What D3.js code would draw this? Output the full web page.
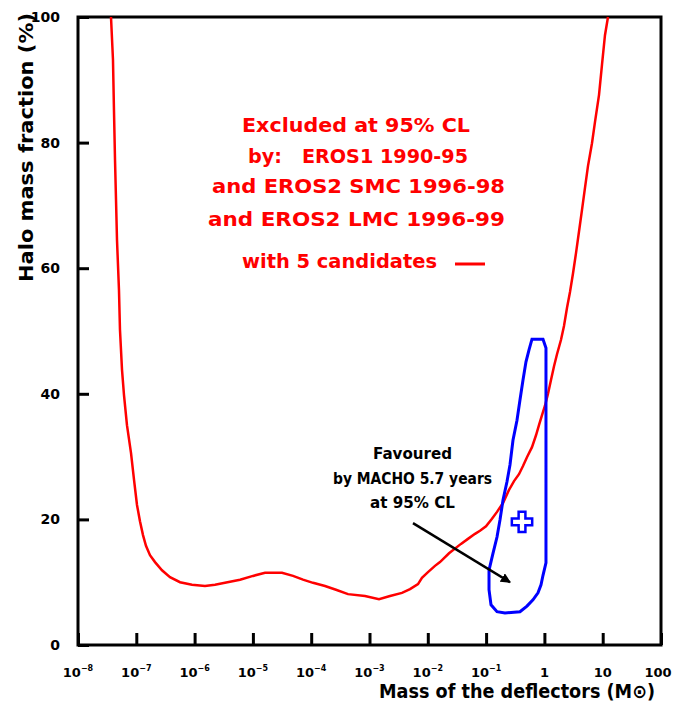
<!DOCTYPE html>
<html>
<head>
<meta charset="utf-8">
<script src="https://cdn.jsdelivr.net/npm/d3@7"></script>
<style>
  body { margin: 0; background: #fff; }
  svg { display: block; }
  text { font-family: "DejaVu Sans", sans-serif; font-weight: bold; }
</style>
</head>
<body>
<svg width="675" height="709"></svg>
<script>
// decades on the mass axis (log10 of solar masses)
const xTickExps = [-8, -7, -6, -5, -4, -3, -2, -1, 0, 1, 2];
const yTicks = [0, 20, 40, 60, 80, 100];

// EROS 95% CL exclusion limit: log10(mass), halo fraction (%)
const limitLogMass = [-7.434, -7.400, -7.383, -7.365, -7.348, -7.331, -7.297, -7.280, -7.245, -7.211,
  -7.160, -7.091, -7.039, -6.988, -6.937, -6.885, -6.834, -6.765, -6.679, -6.559,
  -6.422, -6.250, -6.045, -5.822, -5.650, -5.479, -5.221, -4.998, -4.792, -4.501,
  -4.312, -4.141, -3.969, -3.763, -3.575, -3.369, -3.077, -2.837, -2.648, -2.443,
  -2.305, -2.168, -2.100, -1.997, -1.877, -1.791, -1.636, -1.431, -1.311, -1.190,
  -1.105, -1.002, -0.899, -0.813, -0.710, -0.607, -0.521, -0.436, -0.367, -0.299,
  -0.213, -0.144, -0.093, -0.041, 0.010, 0.062, 0.113, 0.165, 0.216, 0.285,
  0.336, 0.388, 0.439, 0.491, 0.542, 0.593, 0.645, 0.696, 0.748, 0.816,
  0.868, 0.937, 0.988, 1.039, 1.091];
const limitFraction = [100.0, 93.2, 85.2, 77.2, 70.9, 64.5, 56.5, 50.2, 43.8, 39.8,
  35.0, 30.6, 26.3, 22.3, 19.7, 17.5, 15.8, 14.3, 13.2, 11.9,
  10.8, 10.0, 9.6, 9.4, 9.6, 9.9, 10.4, 11.0, 11.5, 11.5,
  11.0, 10.4, 9.9, 9.4, 8.8, 8.1, 7.8, 7.3, 7.8, 8.3,
  8.9, 9.7, 10.7, 11.6, 12.6, 13.2, 14.6, 16.1, 16.9, 17.7,
  18.2, 18.9, 20.1, 21.2, 22.6, 24.7, 26.1, 27.2, 28.5, 29.9,
  31.5, 33.4, 35.0, 36.6, 38.1, 40.0, 42.2, 44.4, 46.3, 48.6,
  50.8, 53.7, 56.2, 59.2, 62.4, 65.8, 69.3, 72.8, 76.3, 79.9,
  83.3, 87.6, 92.4, 97.1, 100.0];

// MACHO 5.7 years 95% CL contour
const machoLogMass = [-0.213, -0.024, 0.027, 0.027, 0.027, 0.027, 0.027, -0.024, -0.058, -0.110,
  -0.196, -0.299, -0.419, -0.676, -0.813, -0.916, -0.950, -0.950, -0.882, -0.813,
  -0.762, -0.710, -0.642, -0.590, -0.539, -0.470, -0.419, -0.367, -0.316, -0.264];
const machoFraction = [48.7, 48.7, 47.3, 39.0, 29.5, 19.9, 13.1, 11.1, 9.6, 8.3,
  7.2, 6.2, 5.3, 5.1, 5.3, 6.4, 8.8, 11.9, 14.6, 17.2,
  19.9, 23.1, 26.0, 28.7, 32.6, 35.8, 39.0, 42.2, 45.1, 47.0];
const machoBest = { logMass: -0.384, fraction: 19.6 };

const arrowFrom = { logMass: -2.254, fraction: 19.4 };
const arrowTo = { logMass: -0.590, fraction: 10.0 };

const excludedLines = ["Excluded at 95% CL", "by:   EROS1 1990-95", "and EROS2 SMC 1996-98",
  "and EROS2 LMC 1996-99", "with 5 candidates"];
const favouredLines = ["Favoured", "by MACHO 5.7 years", "at 95% CL"];

const svg = d3.select("svg");
const plotLeft = 78, plotRight = 661, plotTop = 17, plotBottom = 645;

const x = d3.scaleLog().domain([1e-8, 100]).range([plotLeft, plotRight]);
const y = d3.scaleLinear().domain([0, 100]).range([plotBottom, plotTop]);

// frame
svg.append("rect")
  .attr("x", plotLeft).attr("y", plotTop)
  .attr("width", plotRight - plotLeft).attr("height", plotBottom - plotTop)
  .attr("fill", "none").attr("stroke", "#000").attr("stroke-width", 3);

// ticks pointing inward
const gx = svg.append("g")
  .attr("transform", `translate(0,${plotBottom})`)
  .call(d3.axisBottom(x).tickValues(xTickExps.map(e => Math.pow(10, e)))
    .tickSize(-12).tickSizeOuter(0).tickFormat(""));
const gy = svg.append("g")
  .attr("transform", `translate(${plotLeft},0)`)
  .call(d3.axisLeft(y).tickValues(yTicks)
    .tickSize(-11).tickSizeOuter(0).tickFormat(""));
[gx, gy].forEach(g => {
  g.select(".domain").remove();
  g.selectAll(".tick line").attr("stroke", "#000").attr("stroke-width", 3);
});

// x tick labels
svg.append("g").selectAll("text")
  .data(xTickExps)
  .join("text")
  .attr("x", (d, i) => i === xTickExps.length - 1 ? x(Math.pow(10, d)) - 3 : x(Math.pow(10, d)))
  .attr("y", 677)
  .attr("text-anchor", "middle")
  .attr("font-size", 13)
  .each(function (d) {
    const t = d3.select(this);
    if (d < 0) {
      t.append("tspan").text("10");
      t.append("tspan").attr("font-size", 8).attr("dy", -6).text("\u2212" + (-d));
    } else {
      t.text(String(Math.pow(10, d)));
    }
  });

// y tick labels
svg.append("g").selectAll("text")
  .data(yTicks)
  .join("text")
  .attr("x", 60)
  .attr("y", d => y(d) + 5)
  .attr("text-anchor", "end")
  .attr("font-size", 14)
  .text(d => d);

// axis titles
svg.append("text")
  .attr("transform", "translate(33,282) rotate(-90)")
  .attr("font-size", 19)
  .attr("textLength", 269).attr("lengthAdjust", "spacingAndGlyphs")
  .text("Halo mass fraction (%)");
svg.append("text")
  .attr("x", 379).attr("y", 698)
  .attr("font-size", 19)
  .attr("textLength", 276).attr("lengthAdjust", "spacingAndGlyphs")
  .text("Mass of the deflectors (M\u2299)");

// exclusion curve
const limit = limitLogMass.map((m, i) => [Math.pow(10, m), limitFraction[i]]);
svg.append("path")
  .datum(limit)
  .attr("fill", "none").attr("stroke", "#ff0000").attr("stroke-width", 2.5)
  .attr("d", d3.line().x(d => x(d[0])).y(d => y(d[1])));

// MACHO contour
const macho = machoLogMass.map((m, i) => [Math.pow(10, m), machoFraction[i]]);
svg.append("path")
  .datum(macho)
  .attr("fill", "none").attr("stroke", "#0000ff").attr("stroke-width", 3)
  .attr("d", d3.line().x(d => x(d[0])).y(d => y(d[1])).curve(d3.curveLinearClosed));
svg.append("path")
  .attr("transform", `translate(${x(Math.pow(10, machoBest.logMass))},${y(machoBest.fraction)})`)
  .attr("d", d3.symbol(d3.symbolCross, 230)())
  .attr("fill", "#fff").attr("stroke", "#0000ff").attr("stroke-width", 2.5);

// arrow
svg.append("defs").append("marker")
  .attr("id", "head").attr("viewBox", "0 -5 10 10")
  .attr("refX", 9).attr("refY", 0)
  .attr("markerWidth", 4).attr("markerHeight", 4).attr("orient", "auto")
  .append("path").attr("d", "M0,-5L10,0L0,5Z").attr("fill", "#000");
svg.append("line")
  .attr("x1", x(Math.pow(10, arrowFrom.logMass))).attr("y1", y(arrowFrom.fraction))
  .attr("x2", x(Math.pow(10, arrowTo.logMass))).attr("y2", y(arrowTo.fraction))
  .attr("stroke", "#000").attr("stroke-width", 2.5)
  .attr("marker-end", "url(#head)");

// red annotation
const exclPos = [[242, 132, 228], [248, 163, 220], [212, 193, 293], [208, 226, 297], [242, 268, 195]];
svg.append("g").selectAll("text")
  .data(excludedLines)
  .join("text")
  .attr("x", (d, i) => exclPos[i][0])
  .attr("y", (d, i) => exclPos[i][1])
  .attr("textLength", (d, i) => exclPos[i][2])
  .attr("lengthAdjust", "spacingAndGlyphs")
  .attr("font-size", 20)
  .attr("fill", "#ff0000")
  .style("white-space", "pre")
  .text(d => d);
svg.append("line")
  .attr("x1", 455).attr("x2", 485).attr("y1", 264).attr("y2", 264)
  .attr("stroke", "#ff0000").attr("stroke-width", 3);

// black annotation
const favPos = [[373, 459, 79], [333, 484, 159], [370, 508, 85]];
svg.append("g").selectAll("text")
  .data(favouredLines)
  .join("text")
  .attr("x", (d, i) => favPos[i][0])
  .attr("y", (d, i) => favPos[i][1])
  .attr("textLength", (d, i) => favPos[i][2])
  .attr("lengthAdjust", "spacingAndGlyphs")
  .attr("font-size", 15)
  .attr("fill", "#000")
  .text(d => d);
</script>
</body>
</html>
